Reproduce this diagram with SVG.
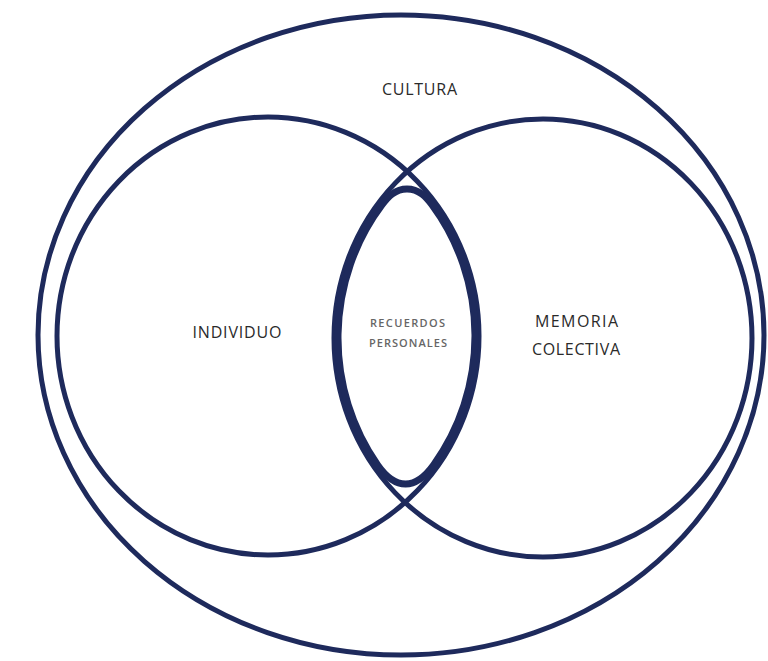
<svg xmlns="http://www.w3.org/2000/svg" width="768" height="661" viewBox="0 0 768 661">
<style>
.ring{fill:none;stroke:#1e2a5c;stroke-width:5}
.lens{fill:none;stroke:#1e2a5c;stroke-width:7;stroke-linejoin:round}
.lbl{font-family:"Open Sans","Liberation Sans",sans-serif;font-size:16px;fill:#2a2a2a;text-anchor:middle}
.sm{font-family:"Open Sans","Liberation Sans",sans-serif;font-size:11px;font-weight:600;fill:#666;text-anchor:middle}
</style>
<rect width="768" height="661" fill="#fff"/>
<g id="cultura">
<ellipse class="ring" cx="401" cy="335" rx="363" ry="320"/>
<text class="lbl" x="419.5" y="95" textLength="75" lengthAdjust="spacing">CULTURA</text>
</g>
<g id="individuo">
<ellipse class="ring" cx="268" cy="336" rx="211" ry="219"/>
<text class="lbl" x="237" y="338" textLength="89" lengthAdjust="spacing">INDIVIDUO</text>
</g>
<g id="memoria">
<ellipse class="ring" cx="543" cy="338" rx="209" ry="219"/>
<text class="lbl" x="576.5" y="327" textLength="83" lengthAdjust="spacing">MEMORIA</text>
<text class="lbl" x="576" y="355" textLength="88" lengthAdjust="spacing">COLECTIVA</text>
</g>
<g id="recuerdos">
<path class="lens" d="M 432.1 205 A 207 215 0 0 1 433.6 465 C 427.8 473 417.6 484 405.6 484 C 393.6 484 383.2 473 377.6 465 A 205 215 0 0 1 381.9 205 C 387.9 197 395 189 407 189 C 419 189 426.2 197 432.1 205 Z"/>
<text class="sm" x="407.5" y="327" textLength="75" lengthAdjust="spacing">RECUERDOS</text>
<text class="sm" x="408" y="346.5" textLength="78" lengthAdjust="spacing">PERSONALES</text>
</g>
<g id="connectors"></g>
</svg>
